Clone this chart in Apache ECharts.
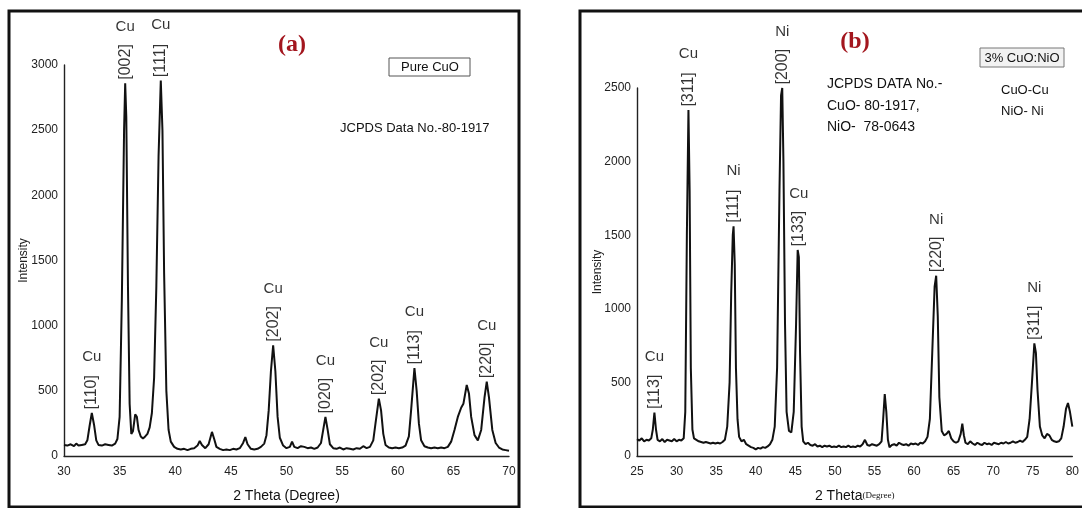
<!DOCTYPE html>
<html><head><meta charset="utf-8">
<script src="https://cdn.jsdelivr.net/npm/echarts@6/dist/echarts.min.js"></script>
<style>html,body{margin:0;padding:0;background:#fff}#c{width:1082px;height:508px}</style>
</head><body><div id="c"></div>
<script>
// Panel (a): Pure CuO  [2theta, intensity]
const patternA = [
[30.0,85],[30.3,80],[30.6,90],[30.9,75],[31.1,95],[31.3,80],[31.6,85],[31.9,90],[32.1,120],[32.3,230],[32.5,330],[32.7,240],[32.9,120],[33.1,85],[33.4,80],[33.7,90],[34.0,85],[34.3,80],[34.6,95],[34.8,130],[35.0,300],[35.2,1200],[35.4,2500],[35.5,2860],[35.6,2600],[35.75,1300],[35.9,400],[36.05,170],[36.2,190],[36.4,320],[36.55,300],[36.7,200],[36.9,150],[37.1,135],[37.3,150],[37.5,170],[37.7,220],[37.9,330],[38.1,600],[38.3,1300],[38.5,2300],[38.7,2880],[38.85,2500],[39.0,1400],[39.2,500],[39.4,200],[39.6,110],[39.9,70],[40.2,55],[40.5,50],[40.8,55],[41.1,45],[41.4,55],[41.7,60],[42.0,80],[42.2,115],[42.4,85],[42.7,60],[43.0,90],[43.3,185],[43.5,130],[43.7,70],[44.0,55],[44.3,45],[44.6,50],[44.9,45],[45.2,55],[45.5,50],[45.8,60],[46.1,100],[46.3,145],[46.5,90],[46.8,55],[47.1,50],[47.4,55],[47.7,70],[48.0,95],[48.2,160],[48.4,350],[48.6,650],[48.8,850],[49.0,650],[49.2,300],[49.4,140],[49.7,80],[50.0,60],[50.3,70],[50.5,110],[50.7,70],[51.0,60],[51.3,75],[51.6,70],[51.9,60],[52.2,65],[52.5,55],[52.8,65],[53.1,100],[53.3,200],[53.5,300],[53.7,200],[53.9,90],[54.2,60],[54.5,55],[54.8,65],[55.1,50],[55.4,60],[55.7,55],[56.0,50],[56.3,60],[56.6,55],[56.9,75],[57.2,60],[57.5,70],[57.8,120],[58.0,250],[58.3,440],[58.5,350],[58.7,170],[58.9,85],[59.2,65],[59.5,60],[59.8,65],[60.1,60],[60.4,65],[60.7,80],[61.0,150],[61.2,350],[61.5,675],[61.7,500],[61.9,250],[62.1,120],[62.4,75],[62.7,65],[63.0,60],[63.3,65],[63.6,60],[63.9,65],[64.2,60],[64.5,70],[64.8,110],[65.1,200],[65.4,300],[65.7,370],[65.9,400],[66.2,545],[66.4,480],[66.6,300],[66.9,160],[67.2,120],[67.5,200],[67.8,450],[68.0,570],[68.2,450],[68.5,200],[68.8,100],[69.1,65],[69.4,50],[69.7,45],[70.0,40]
];
// Panel (b): 3% CuO:NiO
const patternB = [
[25.0,115],[25.3,105],[25.6,120],[25.9,100],[26.2,110],[26.5,105],[26.8,120],[27.0,180],[27.2,295],[27.4,180],[27.6,110],[27.9,100],[28.2,115],[28.5,95],[28.8,110],[29.1,105],[29.4,100],[29.7,115],[30.0,100],[30.3,110],[30.6,105],[30.9,120],[31.1,300],[31.3,1500],[31.5,2350],[31.65,1800],[31.8,600],[32.0,180],[32.2,120],[32.5,110],[32.8,100],[33.1,95],[33.4,90],[33.7,95],[34.0,90],[34.3,85],[34.6,90],[34.9,85],[35.2,90],[35.5,85],[35.8,95],[36.1,110],[36.4,200],[36.7,500],[36.9,1100],[37.1,1500],[37.2,1560],[37.35,1300],[37.5,600],[37.7,250],[37.9,130],[38.2,100],[38.5,110],[38.8,80],[39.1,70],[39.4,60],[39.7,55],[40.0,45],[40.3,55],[40.6,50],[40.9,60],[41.2,55],[41.5,65],[41.8,80],[42.1,110],[42.4,200],[42.7,600],[43.0,1800],[43.2,2450],[43.35,2500],[43.5,2000],[43.7,900],[43.9,300],[44.2,170],[44.5,160],[44.8,300],[45.1,900],[45.3,1400],[45.45,1350],[45.6,700],[45.8,200],[46.0,100],[46.3,80],[46.6,90],[46.9,75],[47.2,70],[47.5,80],[47.8,65],[48.1,70],[48.4,60],[48.7,70],[49.0,65],[49.3,70],[49.6,60],[49.9,65],[50.2,60],[50.5,70],[50.8,60],[51.1,65],[51.4,60],[51.7,70],[52.0,60],[52.3,65],[52.6,60],[52.9,70],[53.2,65],[53.5,80],[53.8,110],[54.1,75],[54.4,70],[54.7,80],[55.0,75],[55.3,70],[55.6,80],[55.9,100],[56.1,250],[56.3,420],[56.5,300],[56.7,110],[56.9,60],[57.2,75],[57.5,80],[57.8,70],[58.1,90],[58.4,80],[58.7,75],[59.0,80],[59.3,70],[59.6,85],[59.9,80],[60.2,85],[60.5,75],[60.8,90],[61.1,85],[61.4,100],[61.7,130],[62.0,250],[62.3,700],[62.6,1150],[62.8,1225],[63.0,950],[63.2,400],[63.5,170],[63.8,140],[64.1,150],[64.4,170],[64.7,120],[65.0,100],[65.3,90],[65.6,100],[65.9,150],[66.1,220],[66.3,140],[66.5,90],[66.8,80],[67.1,100],[67.4,85],[67.7,75],[68.0,90],[68.3,80],[68.6,75],[68.9,90],[69.2,80],[69.5,85],[69.8,75],[70.1,90],[70.4,85],[70.7,80],[71.0,90],[71.3,85],[71.6,95],[71.9,85],[72.2,90],[72.5,100],[72.8,90],[73.1,95],[73.4,105],[73.7,95],[74.0,110],[74.3,130],[74.6,250],[74.9,500],[75.2,765],[75.4,700],[75.6,450],[75.9,200],[76.2,140],[76.5,120],[76.8,150],[77.1,140],[77.4,110],[77.7,100],[78.0,95],[78.3,100],[78.6,120],[78.9,200],[79.2,320],[79.45,360],[79.7,300],[80.0,200]
];
// Peak annotations: [2theta, peak intensity, element, hkl]
const peaksA = [
[32.5,330,'Cu','[110]'],[35.5,2860,'Cu','[002]'],[38.7,2880,'Cu','[111]'],[48.8,850,'Cu','[202]'],
[53.5,300,'Cu','[020]'],[58.3,440,'Cu','[202]'],[61.5,675,'Cu','[113]'],[68.0,570,'Cu','[220]']
];
const peaksB = [
[27.2,295,'Cu','[113]'],[31.5,2350,'Cu','[311]'],[37.2,1560,'Ni','[111]'],[43.35,2500,'Ni','[200]'],
[45.45,1400,'Cu','[133]'],[62.8,1225,'Ni','[220]'],[75.2,765,'Ni','[311]']
];
const xTicksA = {min:30,max:70,interval:5};
const yTicksA = {min:0,max:3000,interval:500};
const xTicksB = {min:25,max:80,interval:5};
const yTicksB = {min:0,max:2500,interval:500};

const FONT = "'Liberation Sans Narrow','Liberation Sans',Arial,sans-serif";
const SANS = "'Liberation Sans',Arial,sans-serif";
const chart = echarts.init(document.getElementById('c'));

function xAx(t, gi, nameCfg){
  return Object.assign({type:'value', gridIndex:gi, min:t.min, max:t.max, interval:t.interval,
    axisLine:{show:true, onZero:false, lineStyle:{color:'#222', width:1.4}}, axisTick:{show:false},
    splitLine:{show:false},
    axisLabel:{color:'#222', fontFamily:FONT, fontSize:12, margin:10, showMaxLabel:true, showMinLabel:true,
      formatter:v=>String(v)},
    nameLocation:'middle', nameGap:33}, nameCfg);
}
function yAx(t, gi, gap){
  return {type:'value', gridIndex:gi, min:t.min, max:t.max, interval:t.interval,
    axisLine:{show:true, lineStyle:{color:'#222', width:1.4}}, axisTick:{show:false},
    splitLine:{show:false},
    axisLabel:{color:'#222', fontFamily:FONT, fontSize:12, margin:6, formatter:v=>String(v)},
    name:'Intensity', nameLocation:'middle', nameGap:gap, nameMoveOverlap:false,
    nameTextStyle:{color:'#222', fontFamily:FONT, fontSize:12}};
}
function hklSeries(peaks, xi){
  return {type:'scatter', xAxisIndex:xi, yAxisIndex:xi, symbolSize:1, itemStyle:{color:'rgba(0,0,0,0)'},
    silent:true, z:5,
    data: peaks.map(p=>({value:[p[0],p[1]], name:p[3]})),
    label:{show:true, position:'top', distance:3, rotate:90, align:'left', verticalAlign:'middle',
      formatter:p=>p.name, color:'#000', fontFamily:FONT, fontSize:16}};
}
function elemSeries(peaks, xi){
  return {type:'scatter', xAxisIndex:xi, yAxisIndex:xi, symbolSize:1, itemStyle:{color:'rgba(0,0,0,0)'},
    silent:true, z:5,
    data: peaks.map(p=>({value:[p[0],p[1]], name:p[2]})),
    label:{show:true, position:'top', distance:48, formatter:p=>p.name,
      color:'#000', fontFamily:FONT, fontSize:15}};
}

chart.setOption({
  animation:false,
  grid:[
    {left:64, top:65, width:445, height:396},
    {left:637, top:88, width:440, height:373}
  ],
  xAxis:[
    xAx(xTicksA,0,{name:'2 Theta (Degree)', nameTextStyle:{color:'#111', fontFamily:SANS, fontSize:14}}),
    xAx(xTicksB,1,{name:'2 Theta{s|(Degree)}', nameTextStyle:{color:'#111', fontFamily:SANS, fontSize:14,
      rich:{s:{fontFamily:"'Liberation Serif',serif", fontSize:9, color:'#111'}}}})
  ],
  yAxis:[yAx(yTicksA,0,34), yAx(yTicksB,1,33)],
  series:[
    {type:'line', xAxisIndex:0, yAxisIndex:0, data:patternA, showSymbol:false, symbol:'none',
      lineStyle:{color:'#111', width:2}},
    {type:'line', xAxisIndex:1, yAxisIndex:1, data:patternB, showSymbol:false, symbol:'none',
      lineStyle:{color:'#111', width:2}},
    hklSeries(peaksA,0), elemSeries(peaksA,0),
    hklSeries(peaksB,1), elemSeries(peaksB,1)
  ],
  graphic:[
    {type:'rect', shape:{x:9,y:11,width:510,height:496}, style:{fill:'none', stroke:'#111', lineWidth:3}},
    {type:'rect', shape:{x:580,y:11,width:520,height:496}, style:{fill:'none', stroke:'#111', lineWidth:3}},
    {type:'text', x:292, y:45, style:{text:'(a)', fill:'#a3161e', font:"bold 24px 'Liberation Serif',serif", textAlign:'center', textVerticalAlign:'middle'}},
    {type:'text', x:855, y:42, style:{text:'(b)', fill:'#a3161e', font:"bold 24px 'Liberation Serif',serif", textAlign:'center', textVerticalAlign:'middle'}},
    {type:'rect', shape:{x:389,y:58,width:81,height:18}, style:{fill:'#fff', stroke:'#555', lineWidth:1}},
    {type:'text', x:430, y:67, style:{text:'Pure CuO', fill:'#111', font:"13px "+SANS, textAlign:'center', textVerticalAlign:'middle'}},
    {type:'text', x:340, y:128, style:{text:'JCPDS Data No.-80-1917', fill:'#111', font:"13px "+FONT, textVerticalAlign:'middle'}},
    {type:'rect', shape:{x:980,y:48,width:84,height:19}, style:{fill:'#f2f2f2', stroke:'#777', lineWidth:1}},
    {type:'text', x:1022, y:58, style:{text:'3% CuO:NiO', fill:'#111', font:"13px "+FONT, textAlign:'center', textVerticalAlign:'middle'}},
    {type:'text', x:1001, y:90, style:{text:'CuO-Cu', fill:'#111', font:"13px "+FONT, textVerticalAlign:'middle'}},
    {type:'text', x:1001, y:111, style:{text:'NiO- Ni', fill:'#111', font:"13px "+FONT, textVerticalAlign:'middle'}},
    {type:'text', x:827, y:84, style:{text:'JCPDS DATA No.-', fill:'#111', font:"14px "+FONT, textVerticalAlign:'middle'}},
    {type:'text', x:827, y:106, style:{text:'CuO- 80-1917,', fill:'#111', font:"14px "+FONT, textVerticalAlign:'middle'}},
    {type:'text', x:827, y:127, style:{text:'NiO-  78-0643', fill:'#111', font:"14px "+FONT, textVerticalAlign:'middle'}}
  ]
});
</script></body></html>
